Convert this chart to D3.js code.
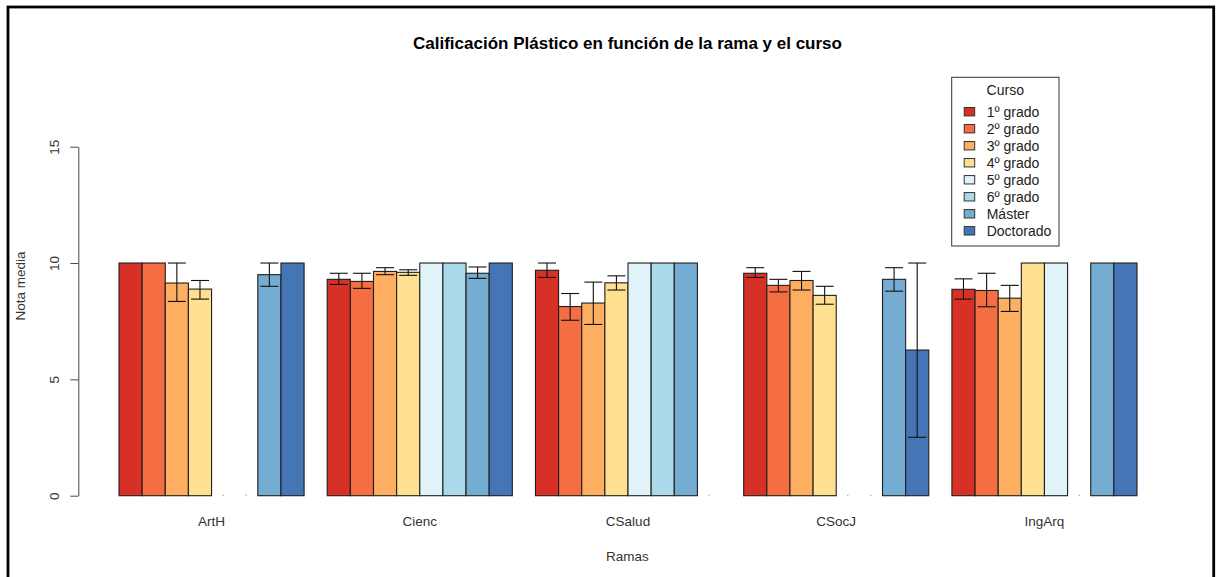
<!DOCTYPE html>
<html>
<head>
<meta charset="utf-8">
<script src="https://cdn.jsdelivr.net/npm/d3@7"></script>
<style>
  html, body { margin: 0; padding: 0; background: #fff; }
  svg { display: block; }
  text { font-family: "Liberation Sans", Arial, sans-serif; }
</style>
</head>
<body>
<script>
// Ramas (groups along the x axis)
const ramas = ["ArtH", "Cienc", "CSalud", "CSocJ", "IngArq"];
// Cursos (one bar per curso inside each rama)
const cursos = ["1º grado", "2º grado", "3º grado", "4º grado", "5º grado", "6º grado", "Máster", "Doctorado"];
const colores = ["#d73027", "#f46d43", "#fdae61", "#fee090", "#e0f3f8", "#abd9e9", "#74add1", "#4575b4"];

// Nota media per curso, listed by rama (null = no data)
const media1 = [10, 9.30, 9.69, 9.56, 8.87];
const media2 = [10, 9.21, 8.13, 9.04, 8.82];
const media3 = [9.14, 9.64, 8.28, 9.25, 8.49];
const media4 = [8.88, 9.60, 9.15, 8.61, 10];
const media5 = [null, 10, 10, null, 10];
const media6 = [null, 10, 10, null, null];
const mediaMaster = [9.50, 9.56, 10, 9.30, 10];
const mediaDoctorado = [10, 10, null, 6.26, 10];

// Error bar limits (lower / upper), null = no interval
const inf1 = [null, 9.08, 9.38, 9.38, 8.45];
const sup1 = [null, 9.56, 10, 9.80, 9.32];
const inf2 = [null, 8.91, 7.54, 8.76, 8.12];
const sup2 = [null, 9.56, 8.69, 9.30, 9.56];
const inf3 = [8.35, 9.50, 7.36, 8.84, 7.92];
const sup3 = [10, 9.80, 9.18, 9.64, 9.04];
const inf4 = [8.45, 9.47, 8.84, 8.23, null];
const sup4 = [9.25, 9.71, 9.45, 9.00, null];
const inf5 = [null, null, null, null, null];
const sup5 = [null, null, null, null, null];
const inf6 = [null, null, null, null, null];
const sup6 = [null, null, null, null, null];
const infMaster = [9.00, 9.34, null, 8.79, null];
const supMaster = [10, 9.83, null, 9.80, null];
const infDoctorado = [null, null, null, 2.51, null];
const supDoctorado = [null, null, null, 10, null];

const yTicks = [0, 5, 10, 15];

const medias = [media1, media2, media3, media4, media5, media6, mediaMaster, mediaDoctorado];
const infs = [inf1, inf2, inf3, inf4, inf5, inf6, infMaster, infDoctorado];
const sups = [sup1, sup2, sup3, sup4, sup5, sup6, supMaster, supDoctorado];

const W = 1222, H = 577;
const svg = d3.select("body").append("svg").attr("width", W).attr("height", H);

// Outer frame
svg.append("rect")
  .attr("x", 8).attr("y", 7).attr("width", 1205.7).attr("height", 620)
  .attr("fill", "none").attr("stroke", "#000").attr("stroke-width", 2.8);

// Bar slot units: each rama has 8 bars of width 1 preceded by a gap of 1
const nC = cursos.length;
const x = d3.scaleLinear().domain([1, 1 + ramas.length * (nC + 1) - 1]).range([119, 1137]);
const y = d3.scaleLinear().domain([0, 15]).range([495.7, 146.7]);

const barData = [];
ramas.forEach((r, g) => {
  cursos.forEach((c, k) => {
    const u = 1 + g * (nC + 1) + k;
    barData.push({ g, k, u, v: medias[k][g], lo: infs[k][g], hi: sups[k][g] });
  });
});

const plot = svg.append("g");

// Bars
plot.selectAll("rect.bar")
  .data(barData.filter(d => d.v !== null))
  .join("rect")
  .attr("class", "bar")
  .attr("x", d => x(d.u))
  .attr("y", d => y(d.v))
  .attr("width", d => x(d.u + 1) - x(d.u))
  .attr("height", d => y(0) - y(d.v))
  .attr("fill", d => colores[d.k])
  .attr("stroke", "#1e1e1e")
  .attr("stroke-width", 1.1);

// Empty slots leave a faint dot on the baseline
plot.selectAll("rect.na")
  .data(barData.filter(d => d.v === null))
  .join("rect")
  .attr("class", "na")
  .attr("x", d => x(d.u + 0.5) - 0.5)
  .attr("y", y(0) - 1)
  .attr("width", 1).attr("height", 1.5)
  .attr("fill", "#999");

// Error bars
const eb = barData.filter(d => d.lo !== null && d.hi !== null);
const capHalf = 9;
const ebG = plot.selectAll("g.eb").data(eb).join("g").attr("class", "eb")
  .attr("stroke", "#111").attr("stroke-width", 1.1);
ebG.append("line")
  .attr("x1", d => x(d.u + 0.5)).attr("x2", d => x(d.u + 0.5))
  .attr("y1", d => y(d.lo)).attr("y2", d => y(d.hi));
ebG.append("line")
  .attr("x1", d => x(d.u + 0.5) - capHalf).attr("x2", d => x(d.u + 0.5) + capHalf)
  .attr("y1", d => y(d.hi)).attr("y2", d => y(d.hi));
ebG.append("line")
  .attr("x1", d => x(d.u + 0.5) - capHalf).attr("x2", d => x(d.u + 0.5) + capHalf)
  .attr("y1", d => y(d.lo)).attr("y2", d => y(d.lo));

// Y axis
const axisX = 78.3;
const yAxis = svg.append("g").attr("transform", `translate(${axisX},0)`)
  .call(d3.axisLeft(y).tickValues(yTicks).tickSize(8).tickSizeOuter(0).tickFormat(d3.format("d")));
yAxis.select(".domain").attr("stroke", "#444");
yAxis.selectAll(".tick line").attr("stroke", "#444");
yAxis.selectAll(".tick text")
  .attr("x", 0).attr("dy", null).attr("y", 0)
  .attr("transform", "translate(-19,0) rotate(-90)")
  .attr("text-anchor", "middle")
  .attr("font-size", 13.5).attr("fill", "#333")
  .attr("font-family", "Liberation Sans, Arial, sans-serif");

// Rama labels under each group
svg.append("g").selectAll("text")
  .data(ramas)
  .join("text")
  .attr("x", (d, g) => x(1 + g * (nC + 1) + nC / 2))
  .attr("y", 526.3)
  .attr("text-anchor", "middle")
  .attr("font-size", 13.5)
  .attr("fill", "#333")
  .text(d => d);

// Title and axis titles
svg.append("text")
  .attr("x", 627.5).attr("y", 48.5)
  .attr("text-anchor", "middle")
  .attr("font-size", 17).attr("font-weight", "bold").attr("fill", "#000")
  .text("Calificación Plástico en función de la rama y el curso");

svg.append("text")
  .attr("x", 627.5).attr("y", 561)
  .attr("text-anchor", "middle")
  .attr("font-size", 13.5).attr("fill", "#333")
  .text("Ramas");

svg.append("text")
  .attr("transform", "translate(25.3,286) rotate(-90)")
  .attr("text-anchor", "middle")
  .attr("font-size", 13.5).attr("fill", "#333")
  .text("Nota media");

// Legend
const lg = svg.append("g");
lg.append("rect")
  .attr("x", 951.7).attr("y", 77.3).attr("width", 107.3).attr("height", 168.7)
  .attr("fill", "#fff").attr("stroke", "#333").attr("stroke-width", 1);
lg.append("text")
  .attr("x", 1005.3).attr("y", 95)
  .attr("text-anchor", "middle")
  .attr("font-size", 14).attr("fill", "#222")
  .text("Curso");
const rowY = d3.scaleLinear().domain([0, nC - 1]).range([111.7, 230.8]);
const item = lg.selectAll("g.item").data(cursos).join("g").attr("class", "item");
item.append("rect")
  .attr("x", 964.2).attr("y", (d, i) => rowY(i) - 4.2)
  .attr("width", 10.5).attr("height", 8.4)
  .attr("fill", (d, i) => colores[i])
  .attr("stroke", "#333").attr("stroke-width", 1);
item.append("text")
  .attr("x", 986.7).attr("y", (d, i) => rowY(i) + 5)
  .attr("font-size", 14).attr("fill", "#222")
  .text(d => d);
</script>
</body>
</html>
